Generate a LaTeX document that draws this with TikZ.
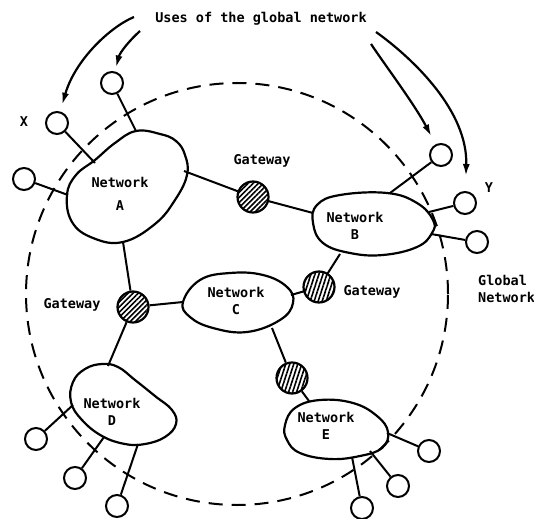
\documentclass[tikz,border=0pt]{standalone}
\usepackage{fontspec}
\newfontfamily\diagfont{DejaVu Sans Mono}
\usetikzlibrary{arrows.meta,patterns.meta}

\tikzset{
  lbl/.style={font=\diagfont\bfseries\fontsize{13.5}{17}\selectfont,inner sep=0pt,align=center},
  blob/.style={draw,line width=2.2pt},
  gateway/.style={circle,draw,line width=2.2pt,minimum size=31pt,inner sep=0pt},
  gwdiag/.style={gateway,pattern={Lines[angle=45,distance=3.6pt,line width=1.6pt]}},
  gwvert/.style={gateway,pattern={Lines[angle=72,distance=3.8pt,line width=1.6pt]}},
  host/.style={circle,draw,line width=2pt,minimum size=22pt,inner sep=0pt},
  link/.style={line width=2pt},
  usearrow/.style={line width=2.2pt,-{Latex[length=12pt,width=7pt]}},
  globe/.style={circle,draw,dash pattern=on 14pt off 9pt,line width=2pt,
                minimum size=422pt,inner sep=0pt}
}

\begin{document}
\begin{tikzpicture}[x=1pt,y=-1pt]
  \useasboundingbox (0,0) rectangle (534,518);

  % global network boundary
  \node[globe] (glob) at (237,294) {};
  \node[lbl,align=left,anchor=west] (globlbl) at (478,289) {Global\\Network};

  % the networks
  \draw[blob] plot[smooth cycle,tension=0.7] coordinates {(136,131) (160,134) (176,141)
    (185,155) (187,175) (175,200) (155,224) (123,242) (93,238) (72,222) (67,195)
    (76,175) (95,160) (115,143)};
  \draw[blob] plot[smooth cycle,tension=0.7] coordinates {(313,223) (317,205) (340,195)
    (387,193) (417,203) (433,220) (432,233) (417,247) (383,255) (350,253) (323,243)};
  \draw[blob] plot[smooth cycle,tension=0.7] coordinates {(183,302) (200,280) (230,273)
    (263,275) (287,287) (293,303) (280,320) (247,332) (213,328) (190,317)};
  \draw[blob] plot[smooth cycle,tension=0.7] coordinates {(73,382) (85,369) (102,364)
    (118,367) (135,380) (155,396) (172,410) (176,424) (165,437) (145,444) (125,444)
    (102,436) (82,420) (71,402)};
  \draw[blob] plot[smooth cycle,tension=0.7] coordinates {(285,425) (295,408) (320,400)
    (353,403) (377,416) (388,432) (382,448) (360,456) (330,459) (300,453) (287,440)};

  \node[lbl] (A) at (120,194) {Network\\[6pt]A};
  \node[lbl] (B) at (355,226) {Network\\B};
  \node[lbl] (C) at (236,301) {Network\\C};
  \node[lbl] (D) at (112,412) {Network\\D};
  \node[lbl] (E) at (326,426) {Network\\E};

  % points on the network edges
  \coordinate (A-gw) at (184,171);
  \coordinate (A-bot) at (123,242);
  \coordinate (A-x) at (95,163);
  \coordinate (A-t) at (136,131);
  \coordinate (A-l) at (68,195);
  \coordinate (B-l) at (313,213);
  \coordinate (B-bot) at (340,254);
  \coordinate (B-t) at (390,193);
  \coordinate (B-y) at (429,212);
  \coordinate (B-r) at (431,234);
  \coordinate (C-l) at (183,302);
  \coordinate (C-r) at (291,295);
  \coordinate (C-b) at (272,328);
  \coordinate (D-t) at (108,366);
  \coordinate (D-l) at (73,405);
  \coordinate (D-b) at (104,437);
  \coordinate (D-r) at (138,444);
  \coordinate (E-t) at (309,401);
  \coordinate (E-r) at (387,433);
  \coordinate (E-m) at (370,451);
  \coordinate (E-b) at (352,457);

  % gateways
  \node[gwdiag] (gAB) at (253,197) {};
  \node[gwdiag] (gAC) at (133,307) {};
  \node[gwvert] (gBC) at (319,287) {};
  \node[gwvert] (gCE) at (292,378) {};
  \node[lbl] (gAB-lbl) at (262,161) {Gateway};
  \node[lbl] (gAC-lbl) at (72,305) {Gateway};
  \node[lbl] (gBC-lbl) at (372,292) {Gateway};

  \draw[link] (A-gw) -- (gAB) -- (B-l);
  \draw[link] (A-bot) -- (gAC) -- (C-l);
  \draw[link] (gAC) -- (D-t);
  \draw[link] (C-r) -- (gBC) -- (B-bot);
  \draw[link] (C-b) -- (gCE) -- (E-t);

  % hosts
  \node[host] (hX) at (57,123) {};
  \node[host] (hAt) at (112,83) {};
  \node[host] (hAl) at (24,179) {};
  \node[host] (hBt) at (441,155) {};
  \node[host] (hY) at (465,203) {};
  \node[host] (hBr) at (477,242) {};
  \node[host] (hDl) at (36,439) {};
  \node[host] (hDm) at (75,478) {};
  \node[host] (hDr) at (117,506) {};
  \node[host] (hEr) at (429,451) {};
  \node[host] (hEm) at (398,486) {};
  \node[host] (hEb) at (362,508) {};
  \node[lbl] (xlbl) at (24,122) {X};
  \node[lbl] (ylbl) at (489,188) {Y};

  \draw[link] (hX) -- (A-x);
  \draw[link] (hAt) -- (A-t);
  \draw[link] (hAl) -- (A-l);
  \draw[link] (hBt) -- (B-t);
  \draw[link] (hY) -- (B-y);
  \draw[link] (hBr) -- (B-r);
  \draw[link] (hDl) -- (D-l);
  \draw[link] (hDm) -- (D-b);
  \draw[link] (hDr) -- (D-r);
  \draw[link] (hEr) -- (E-r);
  \draw[link] (hEm) -- (E-m);
  \draw[link] (hEb) -- (E-b);

  % users
  \node[lbl] (title) at (261,19) {Uses of the global network};
  \coordinate (u1) at (134,17);
  \coordinate (u2) at (140,31);
  \coordinate (u3) at (371,44);
  \coordinate (u4) at (376,32);
  \draw[usearrow,shorten >=7pt] (u1) .. controls (110,27) and (75,60) .. (hX);
  \draw[usearrow,shorten >=4pt] (u2) .. controls (130,40) and (120,52) .. (hAt);
  \draw[usearrow,shorten >=9pt] (u3) .. controls (385,65) and (415,105) .. (hBt);
  \draw[usearrow,shorten >=15pt] (u4) .. controls (415,60) and (468,112) .. (hY);
\end{tikzpicture}
\end{document}
